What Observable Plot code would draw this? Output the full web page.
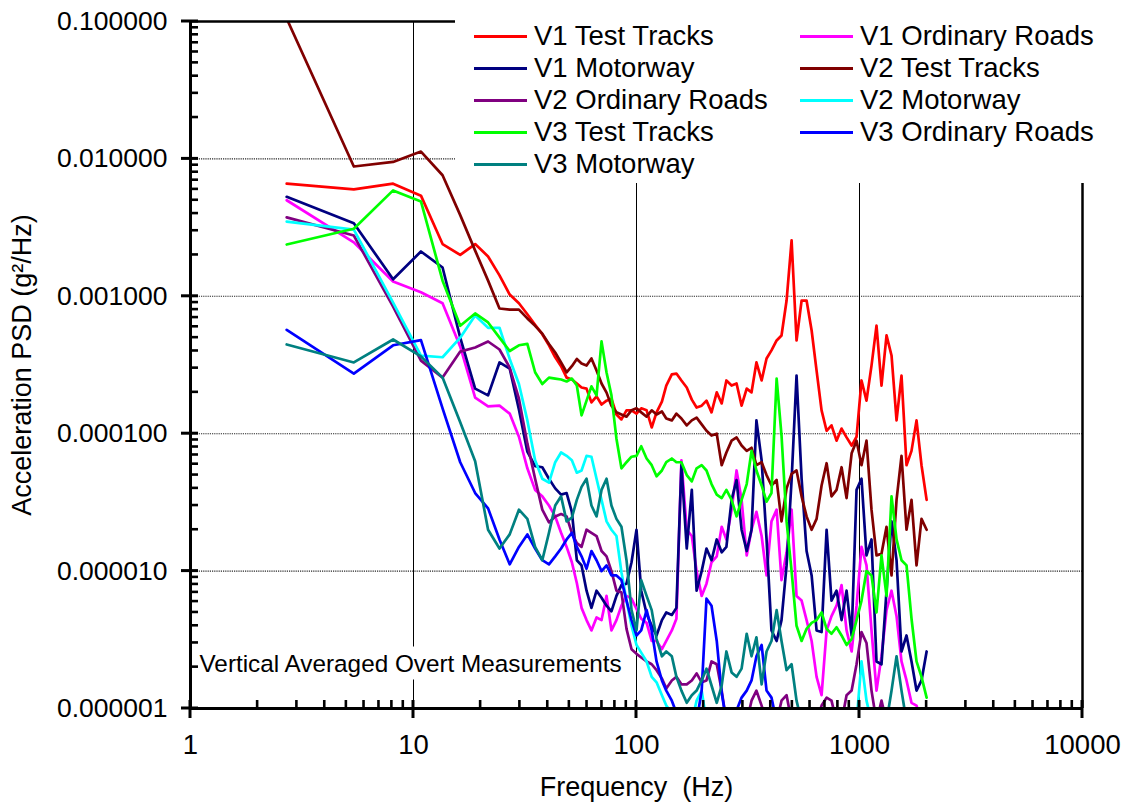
<!DOCTYPE html>
<html>
<head>
<meta charset="utf-8">
<script src="https://cdn.jsdelivr.net/npm/d3@7"></script>
<script src="https://cdn.jsdelivr.net/npm/@observablehq/plot@0.6"></script>
<style>
  body { margin: 0; background: #fff; }
  #wrap { position: relative; width: 1123px; height: 811px; font-family: "Liberation Sans", Arial, sans-serif; color: #000; }
  #wrap svg { display: block; }
</style>
</head>
<body>
<div id="wrap"></div>
<script>
const freq = [
  2.7, 5.4, 8.1, 10.8, 13.5, 16.2, 18.9, 21.6, 24.3, 27,
  29.7, 32.4, 35.1, 37.8, 40.5, 43.2, 45.9, 48.6, 51.3, 54,
  56.7, 59.7, 62.8, 66.2, 69.7, 73.4, 77.2, 81.3, 85.6, 90.2,
  95, 100, 105, 111, 117, 123, 130, 136, 144, 151,
  159, 168, 177, 186, 196, 206, 217, 229, 241, 253,
  267, 281, 296, 312, 328, 345, 364, 383, 403, 425,
  447, 471, 496, 522, 550, 579, 610, 642, 676, 712,
  749, 789, 831, 875, 922, 970, 1021, 1075, 1132, 1192,
  1255, 1322, 1392, 1466, 1543, 1625, 1711, 1802, 1897, 2000
];
const v1TestTracks = [
  6.6e-3, 6.0e-3, 6.6e-3, 5.4e-3, 2.4e-3, 2.0e-3, 2.4e-3, 1.95e-3, 1.42e-3, 1.03e-3,
  8.9e-4, 7.4e-4, 6.2e-4, 5.3e-4, 4.4e-4, 3.6e-4, 3.1e-4, 2.56e-4, 2.48e-4, 2.32e-4,
  2.17e-4, 2.13e-4, 1.69e-4, 1.87e-4, 1.63e-4, 1.74e-4, 1.8e-4, 1.38e-4, 1.27e-4, 1.48e-4,
  1.48e-4, 1.4e-4, 1.53e-4, 1.48e-4, 1.11e-4, 1.43e-4, 1.71e-4, 2.24e-4, 2.7e-4, 2.74e-4,
  2.44e-4, 2.17e-4, 1.77e-4, 1.55e-4, 1.6e-4, 1.74e-4, 1.43e-4, 2.0e-4, 1.66e-4, 2.44e-4,
  2.24e-4, 2.32e-4, 1.6e-4, 2.13e-4, 2.0e-4, 3.3e-4, 2.44e-4, 3.53e-4, 4.04e-4, 4.77e-4,
  5.19e-4, 9.31e-4, 2.55e-3, 4.77e-4, 9.31e-4, 9.31e-4, 5.64e-4, 2.88e-4, 1.48e-4, 1.05e-4,
  1.15e-4, 8.9e-5, 1.09e-4, 9.4e-5, 8.2e-5, 9.5e-5, 2.44e-4, 1.74e-4, 3.13e-4, 6.12e-4,
  2.24e-4, 5.19e-4, 3.71e-4, 1.25e-4, 2.65e-4, 5.9e-5, 7.5e-5, 1.25e-4, 5.9e-5, 3.3e-5
];
const v1OrdinaryRoads = [
  5.0e-3, 2.47e-3, 1.28e-3, 1.07e-3, 8.9e-4, 4.3e-4, 1.83e-4, 1.58e-4, 1.6e-4, 1.4e-4,
  9.5e-5, 5.6e-5, 3.9e-5, 3.5e-5, 3.0e-5, 2.5e-5, 1.9e-5, 1.5e-5, 1.16e-5, 8.2e-6,
  5.4e-6, 4.4e-6, 3.7e-6, 4.6e-6, 4.4e-6, 6.6e-6, 3.7e-6, 4.4e-6, 5.6e-6, 6.6e-6,
  6.3e-6, 5.3e-6, 4.5e-6, 4.2e-6, 3.1e-6, 3.1e-6, 2.7e-6, 3.1e-6, 3.7e-6, 4.5e-6,
  6.4e-5, 2.0e-5, 1.8e-5, 1.0e-5, 6.6e-6, 8.1e-6, 1.16e-5, 1.28e-5, 2.1e-5, 1.7e-5,
  2.8e-5, 5.4e-5, 3.3e-5, 1.3e-5, 2.0e-5, 2.7e-5, 1.8e-5, 9.3e-6, 2.3e-5, 2.8e-5,
  8.6e-6, 1.37e-5, 2.8e-5, 6.6e-6, 6.1e-6, 4.4e-6, 3.1e-6, 1.7e-6, 1.25e-6, 3.7e-6,
  4.7e-6, 5.6e-6, 7.9e-6, 3.7e-6, 2.6e-6, 5.6e-6, 1.5e-5, 1.1e-5, 3.7e-6, 1.35e-6,
  2.4e-6, 5.2e-6, 7.2e-6, 4.7e-6, 2.2e-6, 1.6e-6, 1.1e-6, 1.05e-6, 8e-7, 8e-7
];
const v1Motorway = [
  5.3e-3, 3.4e-3, 1.33e-3, 2.12e-3, 1.62e-3, 5.0e-4, 2.13e-4, 1.9e-4, 3.3e-4, 2.98e-4,
  1.5e-4, 7.4e-5, 5.8e-5, 5.7e-5, 4.7e-5, 4.0e-5, 3.6e-5, 3.7e-5, 2.7e-5, 1.2e-5,
  1.1e-5, 7.2e-6, 5.4e-6, 7.2e-6, 6.4e-6, 5.6e-6, 5.1e-6, 6.6e-6, 7.9e-6, 8.1e-6,
  1.16e-5, 2.0e-5, 7.2e-6, 4.9e-6, 4.0e-6, 3.4e-6, 4.4e-6, 5.0e-6, 4.8e-6, 5.4e-6,
  5.9e-5, 1.46e-5, 3.9e-5, 7.2e-6, 1.0e-5, 1.46e-5, 1.2e-5, 1.7e-5, 1.37e-5, 1.5e-5,
  3.3e-5, 4.6e-5, 2.0e-5, 1.4e-5, 2.0e-5, 1.25e-4, 6.4e-5, 1.7e-5, 3.7e-6, 3.1e-6,
  4.4e-6, 1.1e-5, 4.6e-5, 2.65e-4, 4.7e-5, 1.4e-5, 9.3e-6, 3.7e-6, 3.6e-6, 2.0e-5,
  6.1e-6, 7.2e-6, 4.4e-6, 7.2e-6, 3.4e-6, 3.9e-5, 4.7e-5, 1.3e-5, 1.7e-5, 2.2e-6,
  2.1e-6, 7.2e-6, 2.3e-5, 1.2e-5, 2.6e-6, 3.4e-6, 2.2e-6, 1.35e-6, 1.6e-6, 2.6e-6
];
const v2TestTracks = [
  0.105, 8.8e-3, 9.5e-3, 1.13e-2, 7.6e-3, 3.9e-3, 2.15e-3, 1.3e-3, 8.15e-4, 8.0e-4,
  8.0e-4, 6.9e-4, 6.1e-4, 5.35e-4, 4.5e-4, 3.9e-4, 3.3e-4, 2.8e-4, 3.1e-4, 3.5e-4,
  3.24e-4, 3.13e-4, 3.53e-4, 2.88e-4, 2.32e-4, 1.99e-4, 1.6e-4, 1.43e-4, 1.38e-4, 1.33e-4,
  1.48e-4, 1.53e-4, 1.43e-4, 1.33e-4, 1.48e-4, 1.38e-4, 1.45e-4, 1.29e-4, 1.25e-4, 1.4e-4,
  1.29e-4, 1.15e-4, 1.25e-4, 1.31e-4, 1.17e-4, 1.05e-4, 9.7e-5, 1.0e-4, 5.9e-5, 7.3e-5,
  8.9e-5, 9.4e-5, 8.2e-5, 7.5e-5, 7.9e-5, 5.9e-5, 6.2e-5, 5.0e-5, 4.2e-5, 4.6e-5,
  2.3e-5, 4.0e-5, 5.1e-5, 5.4e-5, 3.5e-5, 2.5e-5, 2.0e-5, 2.4e-5, 4.2e-5, 6.1e-5,
  3.5e-5, 3.9e-5, 5.7e-5, 3.4e-5, 7.2e-5, 8.9e-5, 5.9e-5, 8.9e-5, 2.8e-5, 1.3e-5,
  1.34e-5, 2.1e-5, 9.3e-6, 3.3e-5, 6.9e-5, 2.0e-5, 3.3e-5, 1.1e-5, 2.4e-5, 2.0e-5
];
const v2OrdinaryRoads = [
  3.75e-3, 2.77e-3, 8.4e-4, 3.4e-4, 2.56e-4, 3.96e-4, 4.24e-4, 4.69e-4, 4.1e-4, 3.03e-4,
  1.8e-4, 8.5e-5, 4.7e-5, 2.8e-5, 2.26e-5, 2.5e-5, 2.6e-5, 2.5e-5, 1.9e-5, 1.6e-5,
  1.5e-5, 2.0e-5, 1.9e-5, 1.8e-5, 1.4e-5, 1.28e-5, 1.0e-5, 7.2e-6, 7.0e-6, 3.8e-6,
  2.7e-6, 2.5e-6, 2.35e-6, 2.2e-6, 2.1e-6, 1.9e-6, 1.65e-6, 1.4e-6, 1.6e-6, 1.7e-6,
  1.5e-6, 1.5e-6, 1.6e-6, 1.8e-6, 1.55e-6, 1.6e-6, 2.2e-6, 2.1e-6, 1.35e-6, 8e-7,
  8e-7, 8e-7, 8e-7, 8e-7, 1.14e-6, 1.35e-6, 1.05e-6, 8e-7, 8e-7, 8e-7,
  1.14e-6, 1.25e-6, 8e-7, 8e-7, 8e-7, 8e-7, 8e-7, 8e-7, 1.05e-6, 1.2e-6,
  1.14e-6, 8e-7, 8e-7, 1.25e-6, 1.35e-6, 2.1e-6, 3.6e-6, 3.0e-6, 1.35e-6, 8e-7,
  1.14e-6, 8e-7, 8e-7, 8e-7, 8e-7, 8e-7, 8e-7, 8e-7, 8e-7, 8e-7
];
const v2Motorway = [
  3.5e-3, 3.06e-3, 9.0e-4, 3.7e-4, 3.6e-4, 5.0e-4, 7.25e-4, 5.9e-4, 5.9e-4, 3.5e-4,
  2.3e-4, 1.25e-4, 6.4e-5, 4.7e-5, 4.4e-5, 6.2e-5, 7.3e-5, 6.9e-5, 6.4e-5, 5.2e-5,
  5.4e-5, 6.9e-5, 6.8e-5, 4.7e-5, 3.3e-5, 2.3e-5, 2.0e-5, 1.8e-5, 9.8e-6, 6.1e-6,
  4.0e-6, 2.9e-6, 2.55e-6, 2.2e-6, 1.7e-6, 1.55e-6, 1.25e-6, 1.05e-6, 9.3e-7, 8e-7,
  8e-7, 8e-7, 8e-7, 1.14e-6, 1.35e-6, 8e-7, 8e-7, 8e-7, 8e-7, 8e-7,
  8e-7, 8e-7, 8e-7, 8e-7, 8e-7, 8e-7, 8e-7, 8e-7, 8e-7, 8e-7,
  8e-7, 8e-7, 8e-7, 8e-7, 8e-7, 8e-7, 8e-7, 8e-7, 8e-7, 8e-7,
  8e-7, 8e-7, 8e-7, 8e-7, 8e-7, 8e-7, 2.2e-6, 1.14e-6, 8e-7, 8e-7,
  8e-7, 8e-7, 8e-7, 8e-7, 8e-7, 8e-7, 8e-7, 8e-7, 8e-7, 8e-7
];
const v3TestTracks = [
  2.38e-3, 3.1e-3, 5.9e-3, 4.9e-3, 1.3e-3, 6.1e-4, 7.5e-4, 6.45e-4, 5.0e-4, 4.0e-4,
  4.4e-4, 4.5e-4, 2.8e-4, 2.3e-4, 2.56e-4, 2.52e-4, 2.48e-4, 2.4e-4, 2.52e-4, 2.24e-4,
  1.36e-4, 1.74e-4, 2.21e-4, 1.9e-4, 4.7e-4, 2.79e-4, 1.9e-4, 9.2e-5, 5.6e-5, 6.2e-5,
  6.8e-5, 6.9e-5, 8.1e-5, 6.6e-5, 5.9e-5, 4.9e-5, 5.4e-5, 6.2e-5, 6.6e-5, 6.2e-5,
  6.2e-5, 5.0e-5, 4.5e-5, 5.6e-5, 5.9e-5, 5.4e-5, 4.3e-5, 3.6e-5, 3.4e-5, 3.9e-5,
  3.3e-5, 2.5e-5, 3.3e-5, 4.3e-5, 7.5e-5, 5.4e-5, 4.2e-5, 3.2e-5, 3.7e-5, 2.52e-4,
  9.7e-5, 2.3e-5, 1.0e-5, 4.0e-6, 3.1e-6, 3.8e-6, 4.2e-6, 4.4e-6, 5.0e-6, 3.8e-6,
  3.5e-6, 3.9e-6, 3.4e-6, 2.9e-6, 3.2e-6, 4.4e-6, 6.1e-6, 1.0e-5, 9.3e-6, 5.0e-6,
  1.3e-5, 6.6e-6, 3.5e-5, 1.7e-5, 1.2e-5, 1.1e-5, 4.5e-6, 2.2e-6, 1.7e-6, 1.2e-6
];
const v3OrdinaryRoads = [
  5.7e-4, 2.74e-4, 4.4e-4, 4.8e-4, 1.53e-4, 6.2e-5, 3.7e-5, 2.86e-5, 1.7e-5, 1.12e-5,
  1.5e-5, 1.85e-5, 1.46e-5, 1.2e-5, 1.12e-5, 1.28e-5, 1.46e-5, 1.7e-5, 1.9e-5, 1.5e-5,
  1.28e-5, 1.04e-5, 1.4e-5, 1.2e-5, 1.0e-5, 1.1e-5, 9.3e-6, 9.3e-6, 8.6e-6, 6.1e-6,
  4.4e-6, 3.4e-6, 3.7e-6, 5.2e-6, 3.7e-6, 2.2e-6, 1.6e-6, 1.35e-6, 1.14e-6, 9.3e-7,
  8e-7, 8e-7, 8e-7, 8e-7, 1.35e-6, 6.3e-6, 5.6e-6, 3.1e-6, 1.3e-6, 8e-7,
  8e-7, 9.7e-7, 1.2e-6, 1.35e-6, 1.6e-6, 2.4e-6, 2.9e-6, 1.35e-6, 1.2e-6, 8e-7,
  8e-7, 8e-7, 8e-7, 8e-7, 8e-7, 8e-7, 8e-7, 8e-7, 8e-7, 8e-7,
  8e-7, 8e-7, 8e-7, 8e-7, 8e-7, 8e-7, 8e-7, 8e-7, 8e-7, 8e-7,
  8e-7, 8e-7, 8e-7, 8e-7, 8e-7, 8e-7, 8e-7, 8e-7, 8e-7, 8e-7
];
const v3Motorway = [
  4.46e-4, 3.3e-4, 4.85e-4, 3.65e-4, 2.56e-4, 1.21e-4, 6.3e-5, 2.0e-5, 1.46e-5, 1.85e-5,
  2.8e-5, 2.4e-5, 1.5e-5, 1.2e-5, 1.9e-5, 3.0e-5, 3.5e-5, 2.3e-5, 2.45e-5, 3.3e-5,
  4.1e-5, 4.7e-5, 3.0e-5, 2.5e-5, 3.9e-5, 4.7e-5, 3.0e-5, 2.4e-5, 2.1e-5, 1.2e-5,
  5.2e-6, 3.7e-6, 8.6e-6, 6.6e-6, 5.2e-6, 3.2e-6, 2.4e-6, 2.6e-6, 2.4e-6, 1.7e-6,
  1.35e-6, 1.1e-6, 1.25e-6, 1.35e-6, 1.6e-6, 1.95e-6, 1.47e-6, 1.1e-6, 1.47e-6, 2.6e-6,
  1.83e-6, 1.7e-6, 1.95e-6, 3.5e-6, 2.4e-6, 3.3e-6, 1.5e-6, 2.6e-6, 3.1e-6, 5.2e-6,
  3.1e-6, 1.9e-6, 2.1e-6, 1.14e-6, 8e-7, 8e-7, 8e-7, 8e-7, 8e-7, 8e-7,
  8e-7, 8e-7, 8e-7, 8e-7, 8e-7, 8e-7, 8e-7, 8e-7, 8e-7, 8e-7,
  8e-7, 8e-7, 1.35e-6, 2.4e-6, 1.35e-6, 8e-7, 8e-7, 8e-7, 8e-7, 8e-7
];

const seriesNames = [
  "V1 Test Tracks", "V1 Ordinary Roads", "V1 Motorway",
  "V2 Test Tracks", "V2 Ordinary Roads", "V2 Motorway",
  "V3 Test Tracks", "V3 Ordinary Roads", "V3 Motorway"
];
const seriesColors = [
  "#FF0000", "#FF00FF", "#000080",
  "#800000", "#800080", "#00FFFF",
  "#00FF00", "#0000FF", "#008080"
];
const seriesValues = [
  v1TestTracks, v1OrdinaryRoads, v1Motorway,
  v2TestTracks, v2OrdinaryRoads, v2Motorway,
  v3TestTracks, v3OrdinaryRoads, v3Motorway
];

const xMajor = [1, 10, 100, 1000, 10000];
const xTickLabels = ["1", "10", "100", "1000", "10000"];
const yMajor = [0.000001, 0.00001, 0.0001, 0.001, 0.01, 0.1];
const yTickLabels = ["0.000001", "0.000010", "0.000100", "0.001000", "0.010000", "0.100000"];
const xTitle = "Frequency  (Hz)";
const yTitle = "Acceleration PSD (g\u00B2/Hz)";
const note = "Vertical Averaged Overt Measurements";

// minor tick positions (2..9 within each decade)
const xMinor = [];
for (const d of xMajor.slice(0, -1)) for (let m = 2; m <= 9; m++) xMinor.push(m * d);
const yMinor = [];
for (const d of yMajor.slice(0, -1)) for (let m = 2; m <= 9; m++) yMinor.push(m * d);

const rows = [];
seriesValues.forEach((vals, s) => {
  vals.forEach((v, i) => rows.push({ series: seriesNames[s], f: freq[i], psd: v }));
});

const W = 1123, H = 811;
const mL = 190, mR = 41, mT = 21, mB = 103;
const font = "'Liberation Sans', Arial, Helvetica, sans-serif";

const chart = Plot.plot({
  width: W, height: H,
  marginLeft: mL, marginRight: mR, marginTop: mT, marginBottom: mB,
  x: { type: "log", domain: [1, 10000] },
  y: { type: "log", domain: [1e-6, 0.1] },
  color: { domain: seriesNames, range: seriesColors },
  style: { fontFamily: font, background: "#fff", color: "#000" },
  marks: [
    Plot.ruleY(yMajor.slice(1, -1), { stroke: "#000", strokeWidth: 1.1, strokeDasharray: "1.2,1", strokeOpacity: 0.85 }),
    Plot.ruleX(xMajor.slice(1, -1), { stroke: "#000", strokeWidth: 1 }),
    Plot.line(rows, { x: "f", y: "psd", z: "series", stroke: "series", strokeWidth: 2.7, clip: true }),
    Plot.ruleY([0.1], { stroke: "#000", strokeWidth: 2.5 }),
    Plot.ruleX([10000], { stroke: "#000", strokeWidth: 2.5 }),
    Plot.ruleX([1], { stroke: "#000", strokeWidth: 3 }),
    Plot.ruleY([1e-6], { stroke: "#000", strokeWidth: 3 }),
    Plot.axisY(yMajor, { anchor: "left", tickSize: 0, tickPadding: 23, fontSize: 26.5, label: null,
      tickFormat: (d) => yTickLabels[yMajor.indexOf(d)] }),
    Plot.axisX(xMajor, { anchor: "bottom", tickSize: 0, tickPadding: 26, fontSize: 27.5, label: null,
      tickFormat: (d) => xTickLabels[xMajor.indexOf(d)] }),
    Plot.text([xTitle], { frameAnchor: "bottom", textAnchor: "middle", dy: 87, fontSize: 27, fill: "#000" }),
    Plot.text([yTitle], { frameAnchor: "left", textAnchor: "middle", rotate: -90, dx: -168, fontSize: 27, fill: "#000" }),
    Plot.text([note], { frameAnchor: "bottom-left", textAnchor: "start", dx: 9, dy: -37, fontSize: 24.3, fill: "#000" })
  ]
});

const wrap = document.getElementById("wrap");
wrap.appendChild(chart);

// tick marks, positioned with the chart's own scales
const sx = chart.scale("x"), sy = chart.scale("y");
const lx = d3.scaleLog().domain(sx.domain).range(sx.range);
const ly = d3.scaleLog().domain(sy.domain).range(sy.range);
const X = (v) => { const p = sx.apply ? sx.apply(v) : NaN; return Number.isFinite(p) ? p : lx(v); };
const Y = (v) => { const p = sy.apply ? sy.apply(v) : NaN; return Number.isFinite(p) ? p : ly(v); };
const x0 = X(1), y0 = Y(1e-6);
const NS = "http://www.w3.org/2000/svg";
const tickG = document.createElementNS(NS, "g");
function seg(x1, y1, x2, y2, w) {
  const l = document.createElementNS(NS, "line");
  l.setAttribute("x1", x1); l.setAttribute("y1", y1);
  l.setAttribute("x2", x2); l.setAttribute("y2", y2);
  l.setAttribute("stroke", "#000"); l.setAttribute("stroke-width", w);
  tickG.appendChild(l);
}
yMinor.forEach(v => seg(x0, Y(v), x0 + 8, Y(v), 2.6));
yMajor.forEach(v => seg(x0 - 9, Y(v), x0 + 8, Y(v), 3));
xMinor.forEach(v => seg(X(v), y0, X(v), y0 - 8, 2.6));
xMajor.forEach(v => seg(X(v), y0 + 10, X(v), y0 - 8, 3));
chart.appendChild(tickG);

// white box behind the annotation text
const noteEl = [...chart.querySelectorAll("text")].find(e => e.textContent === note);
if (noteEl) {
  const bb = noteEl.getBBox();
  const r = document.createElementNS(NS, "rect");
  r.setAttribute("x", bb.x - 3);
  r.setAttribute("y", bb.y - 3);
  r.setAttribute("width", bb.width + 8);
  r.setAttribute("height", bb.height + 6);
  r.setAttribute("fill", "#fff");
  const tr = noteEl.getAttribute("transform");
  if (tr) r.setAttribute("transform", tr);
  noteEl.parentNode.insertBefore(r, noteEl);
}

// legend (white box over the top-right of the frame)
const legend = document.createElement("div");
legend.style.cssText = "position:absolute;left:455px;top:0;width:668px;height:183px;background:#fff;";
seriesNames.forEach((name, i) => {
  const col = i % 2, row = Math.floor(i / 2);
  const item = document.createElement("div");
  item.style.cssText = `position:absolute;left:${col ? 345 : 19}px;top:${36 + row * 32 - 16}px;height:32px;display:flex;align-items:center;white-space:nowrap;`;
  const sw = document.createElement("span");
  sw.style.cssText = `display:inline-block;width:53px;height:3px;background:${seriesColors[i]};margin-right:7px;`;
  const tx = document.createElement("span");
  tx.style.cssText = "font-size:27.5px;line-height:32px;";
  tx.textContent = name;
  item.appendChild(sw);
  item.appendChild(tx);
  legend.appendChild(item);
});
wrap.appendChild(legend);
</script>
</body>
</html>
